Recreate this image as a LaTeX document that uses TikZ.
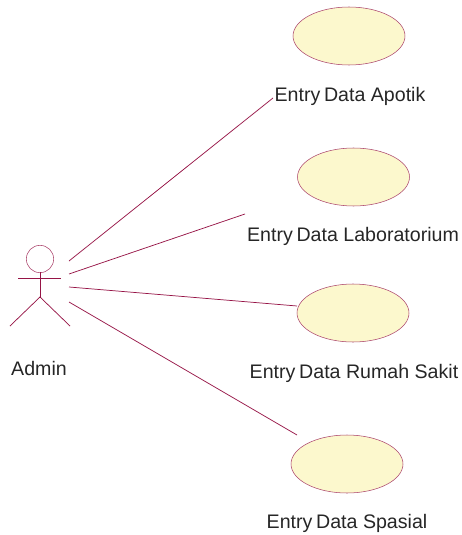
\documentclass[tikz,border=0pt]{standalone}
\usepackage{fontspec}
\setmainfont{Liberation Sans}
\usetikzlibrary{shapes.geometric}
\definecolor{umlline}{RGB}{150,20,70}
\definecolor{umlfill}{RGB}{252,248,205}
\newcommand{\entrydata}{Entry\hspace{2.8pt}Data}
\tikzset{
    usecase/.style={draw=umlline!80, fill=umlfill, ellipse, minimum width=84pt, minimum height=43.5pt, inner sep=0pt, line width=0.4pt},
    caption/.style={text=black!85, font=\fontsize{14.7}{17}\selectfont, inner sep=0pt},
    umlwire/.style={color=umlline, line width=0.55pt}
}
\begin{document}
\begin{tikzpicture}[x=0.75pt, y=-0.75pt]
    \useasboundingbox (0,0) rectangle (461,535);
    % actor
    \node[draw=umlline!80, circle, minimum size=20.5pt, inner sep=0pt, line width=0.4pt] (head) at (40,259) {};
    \coordinate (neck) at (40,272);
    \coordinate (hip) at (40,297);
    \coordinate (handl) at (18,278);
    \coordinate (handr) at (61,278);
    \coordinate (footl) at (10,326);
    \coordinate (footr) at (70,326);
    \draw[umlwire] (neck) -- (hip);
    \draw[umlwire] (handl) -- (handr);
    \draw[umlwire] (footl) -- (hip) -- (footr);
    \node[caption] (admin) at (39,368) {Admin};
    % use cases
    \node[usecase] (apotik) at (349,36) {};
    \node[usecase] (lab) at (353.5,177) {};
    \node[usecase] (rs) at (353,313) {};
    \node[usecase] (spasial) at (347,464) {};
    \node[caption] (apotiktext) at (350,96) {\entrydata{} Apotik};
    \node[caption] (labtext) at (353,236) {\entrydata{} Laboratorium};
    \node[caption] (rstext) at (354,373) {\entrydata{} Rumah Sakit};
    \node[caption] (spasialtext) at (347,523) {\entrydata{} Spasial};
    % connectors
    \coordinate (a1) at (69,261);
    \coordinate (a2) at (69,274);
    \coordinate (a3) at (69,287);
    \coordinate (a4) at (69,302);
    \coordinate (b1) at (273,98);
    \coordinate (b2) at (245,214);
    \coordinate (b3) at (297,306);
    \coordinate (b4) at (297,435);
    \draw[umlwire] (a1) -- (b1);
    \draw[umlwire] (a2) -- (b2);
    \draw[umlwire] (a3) -- (b3);
    \draw[umlwire] (a4) -- (b4);
\end{tikzpicture}
\end{document}
